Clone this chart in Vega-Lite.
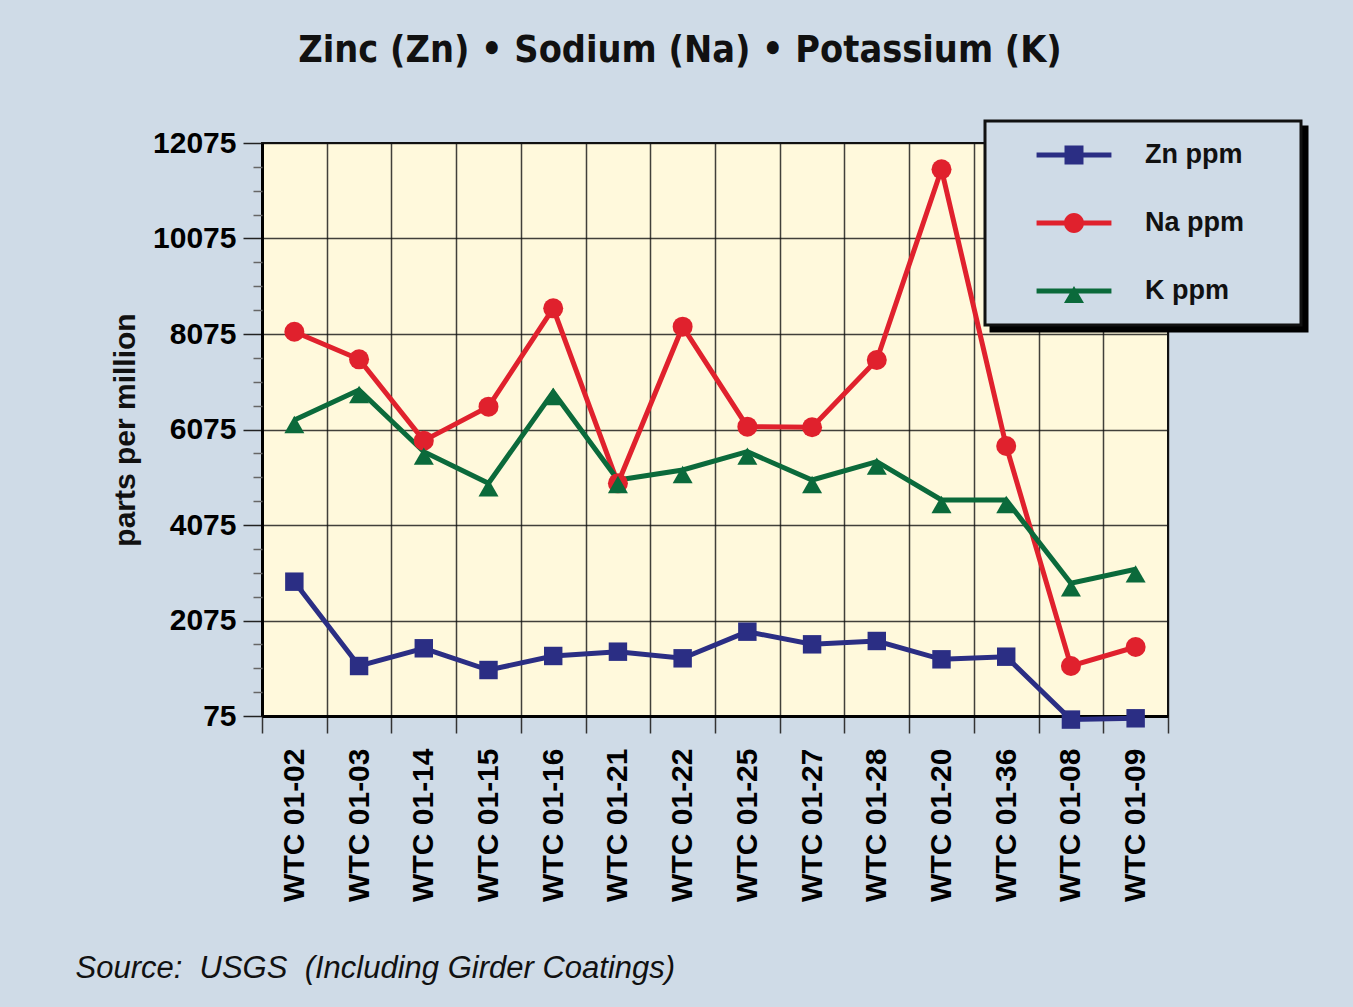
{
  "$schema": "https://vega.github.io/schema/vega-lite/v6.json",
  "autosize": {"type": "none"},
  "width": 906,
  "height": 573,
  "padding": {"left": 262, "top": 143, "right": 185, "bottom": 291},
  "background": "#cfdbe7",
  "view": {"fill": "#fff9dc", "stroke": "#111111", "strokeWidth": 2},
  "title": {
    "text": "Zinc (Zn) • Sodium (Na) • Potassium (K)",
    "font": "DejaVu Sans Condensed, Liberation Sans Narrow, Liberation Sans, sans-serif",
    "fontWeight": "bold",
    "fontSize": 37.5,
    "color": "#111111",
    "anchor": "middle",
    "frame": "group",
    "dx": -35,
    "offset": 20,
    "baseline": "alphabetic"
  },
  "data": {
    "values": [
      {"sample": "WTC 01-02", "series": "Zn ppm", "value": 2888},
      {"sample": "WTC 01-03", "series": "Zn ppm", "value": 1122},
      {"sample": "WTC 01-14", "series": "Zn ppm", "value": 1493},
      {"sample": "WTC 01-15", "series": "Zn ppm", "value": 1038},
      {"sample": "WTC 01-16", "series": "Zn ppm", "value": 1332},
      {"sample": "WTC 01-21", "series": "Zn ppm", "value": 1422},
      {"sample": "WTC 01-22", "series": "Zn ppm", "value": 1283},
      {"sample": "WTC 01-25", "series": "Zn ppm", "value": 1841},
      {"sample": "WTC 01-27", "series": "Zn ppm", "value": 1576},
      {"sample": "WTC 01-28", "series": "Zn ppm", "value": 1646},
      {"sample": "WTC 01-20", "series": "Zn ppm", "value": 1262},
      {"sample": "WTC 01-36", "series": "Zn ppm", "value": 1317},
      {"sample": "WTC 01-08", "series": "Zn ppm", "value": 0},
      {"sample": "WTC 01-09", "series": "Zn ppm", "value": 27},
      {"sample": "WTC 01-02", "series": "Na ppm", "value": 8123},
      {"sample": "WTC 01-03", "series": "Na ppm", "value": 7545},
      {"sample": "WTC 01-14", "series": "Na ppm", "value": 5841},
      {"sample": "WTC 01-15", "series": "Na ppm", "value": 6553},
      {"sample": "WTC 01-16", "series": "Na ppm", "value": 8613},
      {"sample": "WTC 01-21", "series": "Na ppm", "value": 4948},
      {"sample": "WTC 01-22", "series": "Na ppm", "value": 8228},
      {"sample": "WTC 01-25", "series": "Na ppm", "value": 6134},
      {"sample": "WTC 01-27", "series": "Na ppm", "value": 6122},
      {"sample": "WTC 01-28", "series": "Na ppm", "value": 7530},
      {"sample": "WTC 01-20", "series": "Na ppm", "value": 11524},
      {"sample": "WTC 01-36", "series": "Na ppm", "value": 5729},
      {"sample": "WTC 01-08", "series": "Na ppm", "value": 1122},
      {"sample": "WTC 01-09", "series": "Na ppm", "value": 1520},
      {"sample": "WTC 01-02", "series": "K ppm", "value": 6274},
      {"sample": "WTC 01-03", "series": "K ppm", "value": 6902},
      {"sample": "WTC 01-14", "series": "K ppm", "value": 5610},
      {"sample": "WTC 01-15", "series": "K ppm", "value": 4950},
      {"sample": "WTC 01-16", "series": "K ppm", "value": 6860},
      {"sample": "WTC 01-21", "series": "K ppm", "value": 5017},
      {"sample": "WTC 01-22", "series": "K ppm", "value": 5227},
      {"sample": "WTC 01-25", "series": "K ppm", "value": 5610},
      {"sample": "WTC 01-27", "series": "K ppm", "value": 5017},
      {"sample": "WTC 01-28", "series": "K ppm", "value": 5401},
      {"sample": "WTC 01-20", "series": "K ppm", "value": 4599},
      {"sample": "WTC 01-36", "series": "K ppm", "value": 4599},
      {"sample": "WTC 01-08", "series": "K ppm", "value": 2854},
      {"sample": "WTC 01-09", "series": "K ppm", "value": 3147}
    ]
  },
  "config": {
    "view": {"fill": "#fff9dc", "stroke": "#111111", "strokeWidth": 2},
    "legend": {
      "disable": true,
      "orient": "none",
      "padding": 8,
      "strokeWidth": 3,
      "symbolStrokeWidth": 0,
      "symbolOffset": 55,
      "labelOffset": 45,
      "rowPadding": 16,
      "labelFont": "Liberation Sans",
      "labelFontSize": 27,
      "labelFontWeight": "bold",
      "labelColor": "#111111",
      "labelLimit": 400
    }
  },
  "resolve": {"axis": {"y": "independent"}},
  "layer": [
    {
      "mark": {"type": "line", "strokeWidth": 5},
      "encoding": {
        "x": {
          "field": "sample", "type": "nominal", "sort": null,
          "scale": {"domain": ["WTC 01-02","WTC 01-03","WTC 01-14","WTC 01-15","WTC 01-16","WTC 01-21","WTC 01-22","WTC 01-25","WTC 01-27","WTC 01-28","WTC 01-20","WTC 01-36","WTC 01-08","WTC 01-09"], "paddingInner": 0, "paddingOuter": 0},
          "axis": {
            "tickBand": "extent",
            "grid": true, "gridColor": "#111111", "gridOpacity": 0.8, "gridWidth": 1.5,
            "domain": true, "domainColor": "#000000", "domainWidth": 3,
            "ticks": true, "tickSize": 17, "tickColor": "#333333", "tickWidth": 1.5,
            "labelAngle": 270, "labelAlign": "right", "labelBaseline": "middle",
            "labelFont": "Liberation Sans", "labelFontSize": 30, "labelFontWeight": "bold", "labelColor": "#000000",
            "labelPadding": 15,
            "title": "Source:\u00a0 USGS\u00a0 (Including Girder Coatings)",
            "titleFont": "Liberation Sans", "titleFontStyle": "italic", "titleFontWeight": "normal",
            "titleFontSize": 31, "titleColor": "#111111",
            "titleX": -187, "titleY": 261, "titleAlign": "left", "titleBaseline": "alphabetic", "titleAngle": 0
          }
        },
        "y": {
          "field": "value", "type": "quantitative",
          "scale": {"domain": [75, 12075], "nice": false, "zero": false},
          "axis": {
            "orient": "left",
            "values": [75, 2075, 4075, 6075, 8075, 10075, 12075],
            "format": "d",
            "grid": true, "gridColor": "#111111", "gridOpacity": 0.8, "gridWidth": 1.5,
            "domain": true, "domainColor": "#000000", "domainWidth": 3,
            "ticks": true, "tickSize": 19, "tickColor": "#222222", "tickWidth": 1.5,
            "labelFont": "Liberation Sans", "labelFontSize": 30, "labelFontWeight": "bold", "labelColor": "#000000",
            "labelPadding": 7,
            "title": "parts per million",
            "titleFont": "Liberation Sans", "titleFontSize": 30, "titleFontWeight": "bold", "titleColor": "#111111",
            "titleX": -128, "titleY": 286.5, "titleAngle": 270, "titleAlign": "center", "titleBaseline": "alphabetic"
          }
        },
        "color": {
          "field": "series", "type": "nominal",
          "scale": {"domain": ["Zn ppm", "Na ppm", "K ppm"], "range": ["#2b2e84", "#e0212d", "#0b6a3b"]}
        }
      }
    },
    {
      "transform": [{"filter": "datum.series == 'Zn ppm'"}],
      "mark": {"type": "point", "shape": "square", "filled": true, "opacity": 1, "size": 340},
      "encoding": {
        "x": {"field": "sample", "type": "nominal", "sort": null},
        "y": {
          "field": "value", "type": "quantitative",
          "axis": {
            "orient": "left",
            "values": [575, 1075, 1575, 2575, 3075, 3575, 4575, 5075, 5575, 6575, 7075, 7575, 8575, 9075, 9575, 10575, 11075, 11575],
            "grid": false, "domain": false, "labels": false, "title": null,
            "ticks": true, "tickSize": 9, "tickColor": "#666666", "tickWidth": 1.5
          }
        },
        "color": {"field": "series", "type": "nominal", "scale": {"domain": ["Zn ppm", "Na ppm", "K ppm"], "range": ["#2b2e84", "#e0212d", "#0b6a3b"]}}
      }
    },
    {
      "transform": [{"filter": "datum.series == 'Na ppm'"}],
      "mark": {"type": "point", "shape": "circle", "filled": true, "opacity": 1, "size": 400},
      "encoding": {
        "x": {"field": "sample", "type": "nominal", "sort": null},
        "y": {"field": "value", "type": "quantitative", "axis": null},
        "color": {"field": "series", "type": "nominal", "scale": {"domain": ["Zn ppm", "Na ppm", "K ppm"], "range": ["#2b2e84", "#e0212d", "#0b6a3b"]}}
      }
    },
    {
      "transform": [{"filter": "datum.series == 'K ppm'"}],
      "mark": {"type": "point", "shape": "triangle-up", "filled": true, "opacity": 1, "size": 400, "yOffset": 4.5},
      "encoding": {
        "x": {"field": "sample", "type": "nominal", "sort": null},
        "y": {"field": "value", "type": "quantitative", "axis": null},
        "color": {"field": "series", "type": "nominal", "scale": {"domain": ["Zn ppm", "Na ppm", "K ppm"], "range": ["#2b2e84", "#e0212d", "#0b6a3b"]}}
      }
    },
    {
      "transform": [{"filter": "datum.value < -1"}],
      "mark": {"type": "point", "filled": true, "opacity": 1, "size": 2704},
      "encoding": {
        "size": {
          "field": "series", "type": "ordinal",
          "scale": {"domain": ["a", "b", "c"], "range": [2704, 2704, 2704]},
          "legend": {
            "disable": false, "title": null, "zindex": 1,
            "legendX": 729, "legendY": -16,
            "fillColor": "#000000", "strokeColor": "#000000",
            "symbolType": "M-1.44,-0.096H1.44V0.096H-1.44Z M0,-1L0.001,-1Z M0,1L0.001,1Z M8.4,0L8.401,0Z",
            "symbolFillColor": "#000000",
            "labelExpr": "''", "labelColor": "#000000"
          }
        }
      }
    },
    {
      "transform": [{"filter": "datum.value < -1"}],
      "mark": {"type": "point", "filled": true, "opacity": 1, "size": 2704},
      "encoding": {
        "color": {
          "field": "series", "type": "nominal",
          "scale": {"domain": ["Zn ppm", "Na ppm", "K ppm"], "range": ["#2b2e84", "#e0212d", "#0b6a3b"]},
          "legend": {
            "disable": false, "title": null, "zindex": 2,
            "legendX": 723, "legendY": -22,
            "fillColor": "#cfdbe7", "strokeColor": "#111111",
            "symbolSize": 2704
          }
        },
        "shape": {
          "field": "series", "type": "nominal",
          "scale": {"domain": ["Zn ppm", "Na ppm", "K ppm"], "range": [
            "M-1.44,-0.096H1.44V0.096H-1.44Z M-0.365,-0.365H0.365V0.365H-0.365Z M0,-1L0.001,-1Z M0,1L0.001,1Z M8.4,0L8.401,0Z",
            "M-1.44,-0.096H1.44V0.096H-1.44Z M-0.385,0A0.385,0.385 0 1,1 0.385,0A0.385,0.385 0 1,1 -0.385,0Z M0,-1L0.001,-1Z M0,1L0.001,1Z M8.4,0L8.401,0Z",
            "M-1.44,-0.096H1.44V0.096H-1.44Z M0,-0.19L0.385,0.46H-0.385Z M0,-1L0.001,-1Z M0,1L0.001,1Z M8.4,0L8.401,0Z"
          ]},
          "legend": {
            "disable": false, "title": null, "zindex": 2,
            "legendX": 723, "legendY": -22,
            "fillColor": "#cfdbe7", "strokeColor": "#111111",
            "symbolSize": 2704
          }
        }
      }
    }
  ]
}
